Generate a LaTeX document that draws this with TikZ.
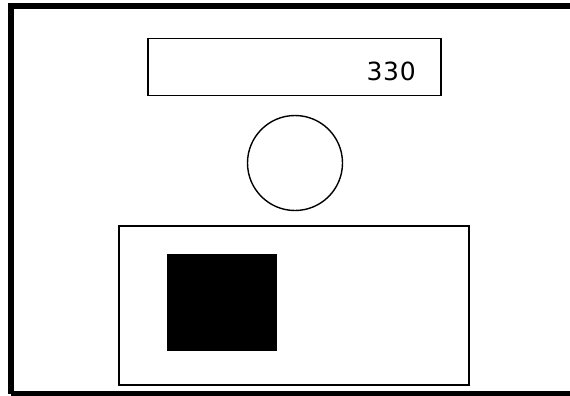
\documentclass[tikz,border=0pt]{standalone}
\usepackage{fontspec}
\setsansfont{DejaVu Sans}
\usepackage{tikz}
\usetikzlibrary{positioning}

\begin{document}
\begin{tikzpicture}[
    x=1pt, y=-1pt,
    box/.style={draw, line width=1.4pt, inner sep=0pt},
]

% Canvas
\useasboundingbox (0,0) rectangle (570,396);
\clip (0,0) rectangle (570,396);

% Outer frame (right side runs off the page)
\draw[line width=6pt] (11,394) -- (11,6) -- (580,6);
\draw[line width=5pt] (11,393.5) -- (580,393.5);

% Display bar with value
\node[box, minimum width=293pt, minimum height=57pt] (display) at (294.5,67) {};
\node[anchor=east, font=\sffamily\fontsize{25}{25}\selectfont\addfontfeature{LetterSpace=3}, inner sep=0pt] (value) at (416,71) {330};

% Round indicator
\node[draw, circle, line width=1.4pt, minimum size=95pt, inner sep=0pt] (lamp) at (295,163) {};

% Lower panel with filled block
\node[box, minimum width=350pt, minimum height=159pt] (panel) at (294,305.5) {};
\node[fill=black, inner sep=0pt, minimum width=110pt, minimum height=97pt] (block) at (221.5,302.5) {};

\end{tikzpicture}
\end{document}
